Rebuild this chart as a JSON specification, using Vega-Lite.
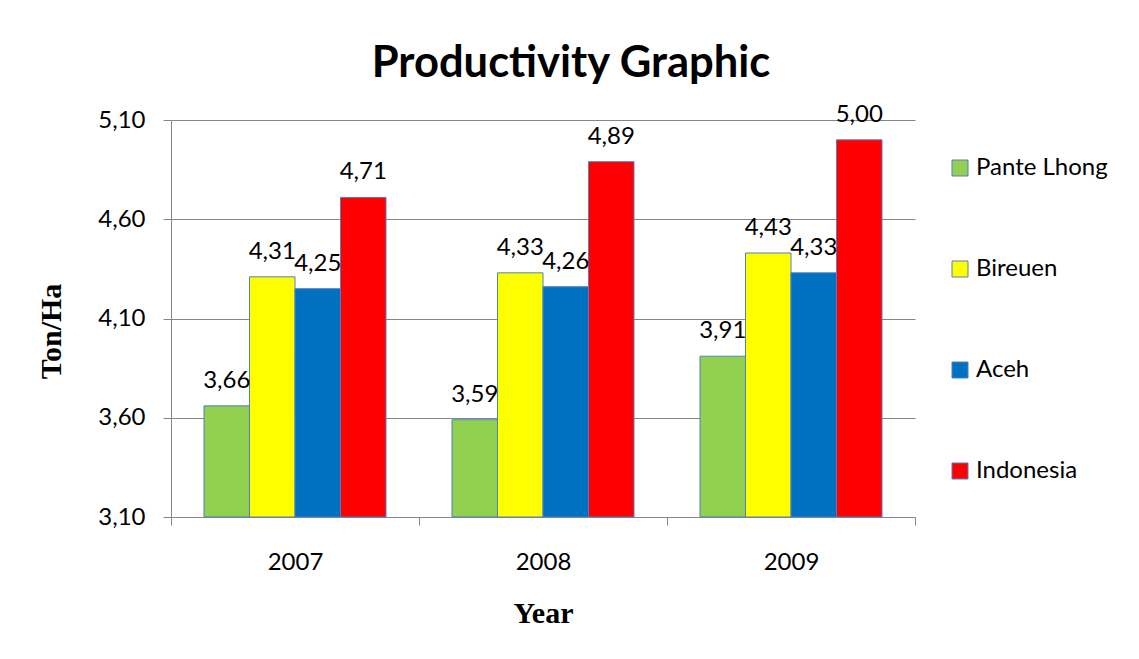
{
  "$schema": "https://vega.github.io/schema/vega-lite/v6.json",
  "width": 744,
  "height": 397,
  "autosize": {"type": "none"},
  "padding": {"left": 171, "top": 120, "right": 224, "bottom": 142},
  "background": "white",
  "title": {
    "text": "Productivity Graphic",
    "font": "Lato",
    "fontSize": 43.5,
    "fontWeight": "bold",
    "color": "black",
    "anchor": "middle",
    "dx": 28,
    "baseline": "alphabetic",
    "offset": -18
  },
  "data": {
    "values": [
      {"year": "2007", "region": "Pante Lhong", "value": 3.66},
      {"year": "2007", "region": "Bireuen", "value": 4.31},
      {"year": "2007", "region": "Aceh", "value": 4.25},
      {"year": "2007", "region": "Indonesia", "value": 4.71},
      {"year": "2008", "region": "Pante Lhong", "value": 3.59},
      {"year": "2008", "region": "Bireuen", "value": 4.33},
      {"year": "2008", "region": "Aceh", "value": 4.26},
      {"year": "2008", "region": "Indonesia", "value": 4.89},
      {"year": "2009", "region": "Pante Lhong", "value": 3.91},
      {"year": "2009", "region": "Bireuen", "value": 4.43},
      {"year": "2009", "region": "Aceh", "value": 4.33},
      {"year": "2009", "region": "Indonesia", "value": 5.0}
    ]
  },
  "encoding": {
    "x": {
      "field": "year",
      "type": "nominal",
      "scale": {"paddingInner": 0, "paddingOuter": 0},
      "axis": {
        "title": "Year",
        "titleFont": "Liberation Serif",
        "titleFontSize": 30,
        "titleFontWeight": "bold",
        "titleColor": "black",
        "titlePadding": 24,
        "labelAngle": 0,
        "labelFont": "Lato",
        "labelFontSize": 24,
        "labelColor": "black",
        "labelPadding": 25,
        "tickBand": "extent",
        "tickSize": 8,
        "tickColor": "#868686",
        "domainColor": "#868686",
        "grid": false
      }
    },
    "xOffset": {
      "field": "region",
      "type": "nominal",
      "sort": ["Pante Lhong", "Bireuen", "Aceh", "Indonesia"],
      "scale": {"paddingInner": 0, "paddingOuter": 0.725}
    },
    "y": {
      "field": "value",
      "type": "quantitative",
      "scale": {"domain": [3.1, 5.1], "zero": false, "nice": false},
      "axis": {
        "title": "Ton/Ha",
        "titleFont": "Liberation Serif",
        "titleFontSize": 30,
        "titleFontWeight": "bold",
        "titleColor": "black",
        "titlePadding": 31,
        "titleY": 211,
        "values": [3.1, 3.6, 4.1, 4.6, 5.1],
        "labelExpr": "replace(format(datum.value, '.2f'), '.', ',')",
        "labelFont": "Lato",
        "labelFontSize": 24,
        "labelColor": "black",
        "labelPadding": 18,
        "tickSize": 8,
        "tickColor": "#868686",
        "domainColor": "#868686",
        "grid": true,
        "gridColor": "#868686",
        "gridOpacity": 1
      }
    }
  },
  "layer": [
    {
      "mark": {"type": "bar", "stroke": "#4f81bd", "strokeWidth": 1},
      "encoding": {
        "y2": {"datum": 3.1},
        "color": {
          "field": "region",
          "type": "nominal",
          "scale": {
            "domain": ["Pante Lhong", "Bireuen", "Aceh", "Indonesia"],
            "range": ["#92d050", "#ffff00", "#0070c0", "#ff0000"]
          },
          "legend": {
            "title": null,
            "orient": "none",
            "legendX": 777,
            "legendY": 36,
            "symbolType": "square",
            "symbolSize": 256,
            "symbolStrokeColor": "#4f81bd",
            "symbolStrokeWidth": 1,
            "symbolOpacity": 1,
            "labelFont": "Lato",
            "labelFontSize": 24,
            "labelColor": "black",
            "labelOffset": 4,
            "rowPadding": 77,
            "labelLimit": 300
          }
        }
      }
    },
    {
      "mark": {"type": "text", "baseline": "bottom", "dy": -13, "font": "Lato", "fontSize": 24, "color": "black"},
      "encoding": {
        "text": {"field": "value", "type": "quantitative", "format": ".2f"}
      }
    }
  ],
  "config": {
    "locale": {
      "number": {"decimal": ",", "thousands": ".", "grouping": [3], "currency": ["", ""]}
    },
    "view": {"stroke": null}
  }
}
